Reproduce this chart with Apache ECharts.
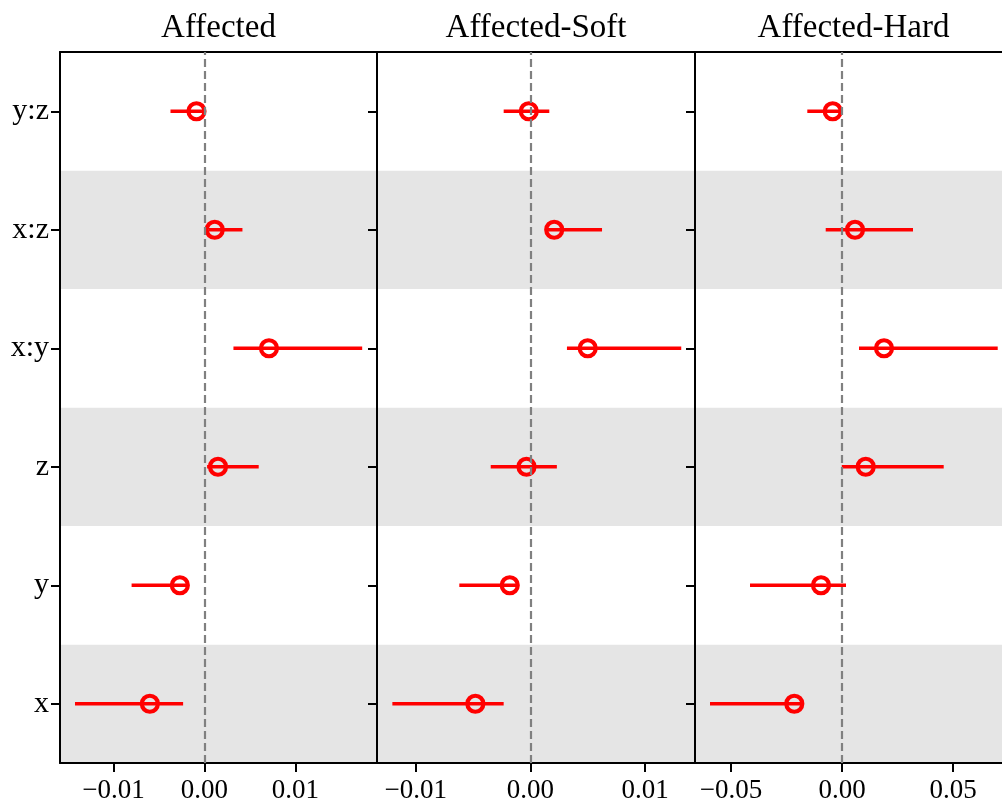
<!DOCTYPE html>
<html>
<head>
<meta charset="utf-8">
<script src="https://cdn.jsdelivr.net/npm/echarts@6/dist/echarts.min.js"></script>
<style>html,body{margin:0;padding:0;background:#fff}#chart{width:1002px;height:805px}</style>
</head>
<body>
<div id="chart"></div>
<script>
// Categories (bottom to top)
const categories = ['x', 'y', 'z', 'x:y', 'x:z', 'y:z'];
const panelTitles = ['Affected', 'Affected-Soft', 'Affected-Hard'];

// Panel 1: Affected
const estAffected  = [-0.00601, -0.00271, 0.00149, 0.00710, 0.00113, -0.00088];
const lowAffected  = [-0.01425, -0.00802, 0.00029, 0.00319, 0.00050, -0.00374];
const highAffected = [-0.00235, -0.00190, 0.00597, 0.01736, 0.00418, 0.00010];

// Panel 2: Affected-Soft
const estSoft  = [-0.00481, -0.00181, -0.00035, 0.00499, 0.00207, -0.00015];
const lowSoft  = [-0.01205, -0.00621, -0.00347, 0.00318, 0.00140, -0.00234];
const highSoft = [-0.00234, -0.00120, 0.00230, 0.01315, 0.00624, 0.00164];

// Panel 3: Affected-Hard
const estHard  = [-0.02149, -0.00946, 0.01068, 0.01892, 0.00586, -0.00419];
const lowHard  = [-0.05946, -0.04144, -0.00010, 0.00766, -0.00734, -0.01563];
const highHard = [-0.01800, 0.00180, 0.04581, 0.07014, 0.03198, -0.00050];

// Axis ranges (visible part) and ticks
const xRanges = [[-0.0159, 0.01899], [-0.01339, 0.01435], [-0.06622, 0.07207]];
const xTicks = [[-0.01, 0, 0.01], [-0.01, 0, 0.01], [-0.05, 0, 0.05]];

const panels = [
  {est: estAffected, low: lowAffected, high: highAffected},
  {est: estSoft, low: lowSoft, high: highSoft},
  {est: estHard, low: lowHard, high: highHard}
];

const FONT = "'Liberation Serif', 'DejaVu Serif', serif";
const RED = '#ff0000';
const gridLefts = [60, 377, 695];
const gridWidths = [317, 318, 307];
const gridTop = 52, gridHeight = 711;

function fmt(v) {
  if (Math.abs(v) < 1e-12) return '0.00';
  return (v < 0 ? '\u2212' : '') + Math.abs(v).toFixed(2);
}

const grid = [], xAxis = [], yAxis = [], series = [], graphic = [];
panels.forEach((p, i) => {
  grid.push({left: gridLefts[i], top: gridTop, width: gridWidths[i], height: gridHeight, containLabel: false});
  const lineStyle = {color: '#000', width: 2};
  xAxis.push({
    type: 'value', gridIndex: i, min: xRanges[i][0], max: xRanges[i][1], position: 'bottom',
    axisLine: {show: true, onZero: false, lineStyle},
    axisTick: {show: true, length: 9, lineStyle, customValues: xTicks[i]},
    axisLabel: {show: true, customValues: xTicks[i], formatter: fmt, fontFamily: FONT, fontSize: 27, color: '#000', margin: 14},
    splitLine: {show: false}
  });
  xAxis.push({
    type: 'value', gridIndex: i, min: xRanges[i][0], max: xRanges[i][1], position: 'top',
    axisLine: {show: true, onZero: false, lineStyle},
    axisTick: {show: false}, axisLabel: {show: false}, splitLine: {show: false}
  });
  yAxis.push({
    type: 'category', gridIndex: i, data: categories, position: 'left', boundaryGap: true,
    axisLine: {show: true, onZero: false, lineStyle},
    axisTick: {show: true, length: 9, alignWithLabel: true, interval: 0, lineStyle},
    axisLabel: {show: i === 0, fontFamily: FONT, fontSize: 30, color: '#000', margin: 11, interval: 0},
    splitLine: {show: false},
    splitArea: {show: true, interval: 0, areaStyle: {color: ['#e5e5e5', '#ffffff']}}
  });
  yAxis.push({
    type: 'category', gridIndex: i, data: categories, position: 'right', boundaryGap: true,
    axisLine: {show: i < 2, onZero: false, lineStyle},
    axisTick: {show: false}, axisLabel: {show: false}, splitLine: {show: false}
  });

  // zero reference line
  series.push({
    type: 'scatter', xAxisIndex: 2 * i, yAxisIndex: 2 * i, data: [], silent: true, z: 2,
    markLine: {
      silent: true, symbol: ['none', 'none'], animation: false,
      label: {show: false},
      lineStyle: {color: '#808080', width: 2.2, type: [8, 4]},
      data: [{xAxis: 0}]
    }
  });
  // error bars
  series.push({
    type: 'custom', xAxisIndex: 2 * i, yAxisIndex: 2 * i, z: 3, silent: true,
    data: categories.map((c, j) => [p.low[j], p.high[j], j]),
    encode: {x: [0, 1], y: 2},
    renderItem: function (params, api) {
      const a = api.coord([api.value(0), api.value(2)]);
      const b = api.coord([api.value(1), api.value(2)]);
      return {type: 'line', shape: {x1: a[0], y1: a[1], x2: b[0], y2: b[1]},
              style: {stroke: RED, lineWidth: 3.6}};
    }
  });
  // point estimates
  series.push({
    type: 'scatter', xAxisIndex: 2 * i, yAxisIndex: 2 * i, z: 4, silent: true,
    symbol: 'circle', symbolSize: 16,
    itemStyle: {color: 'rgba(0,0,0,0)', borderColor: RED, borderWidth: 4.2, opacity: 1},
    data: p.est.map((v, j) => [v, categories[j]])
  });

  graphic.push({
    type: 'text', x: [218.5, 536, 853.5][i], y: 28,
    style: {text: panelTitles[i], font: '33px ' + FONT, fill: '#000', textAlign: 'center', textVerticalAlign: 'middle'}
  });
});

const chart = echarts.init(document.getElementById('chart'), null, {renderer: 'canvas'});
chart.setOption({
  animation: false,
  backgroundColor: '#fff',
  grid, xAxis, yAxis, series, graphic
});
</script>
</body>
</html>
